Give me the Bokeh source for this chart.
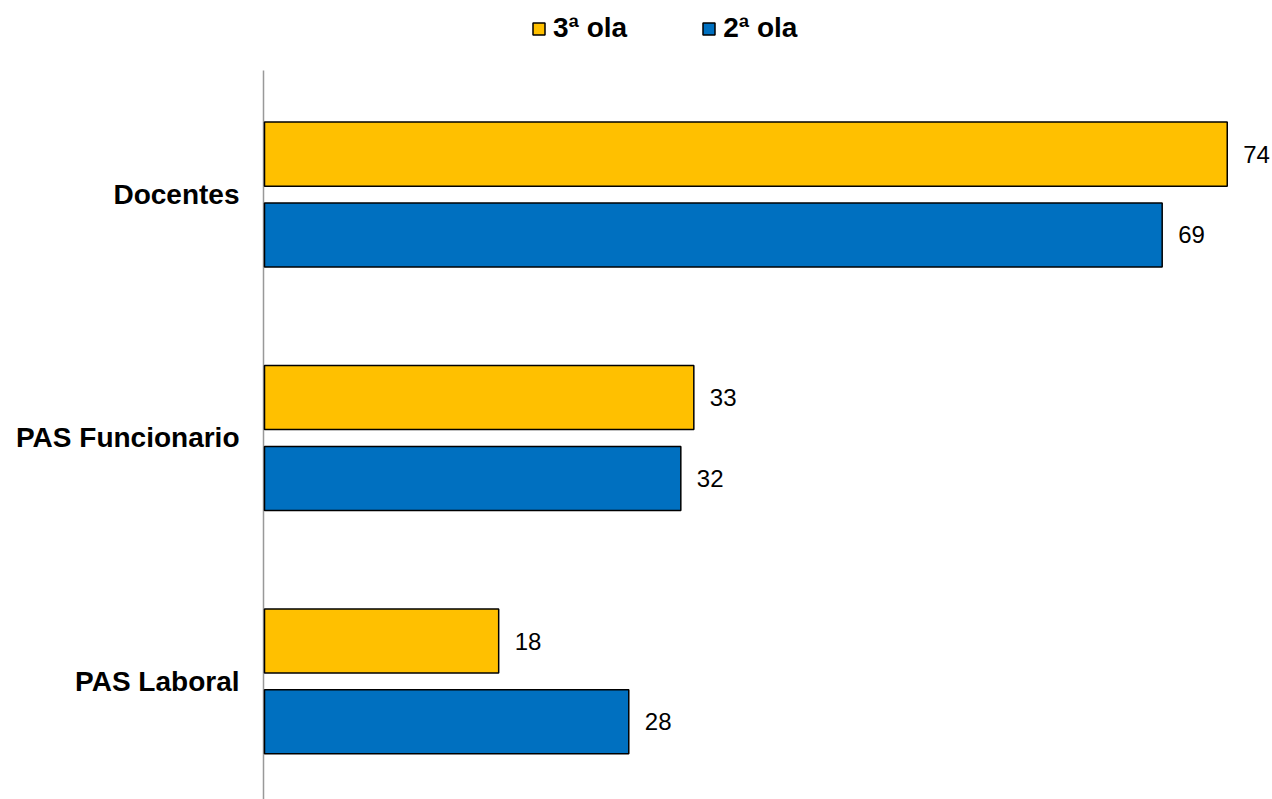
from bokeh.plotting import figure
from bokeh.models import Range1d, Legend, LegendItem, FixedTicker
from bokeh.core.properties import value
from bokeh.embed import file_html
from bokeh.resources import INLINE

categories = ["Docentes", "PAS Funcionario", "PAS Laboral"]
ola3 = [74, 33, 18]
ola2 = [69, 32, 28]
series_names = ["3ª ola", "2ª ola"]
colors = ["#FFC000", "#0070C0"]

FONT = "Liberation Sans"
PX_PER_UNIT = 13.01
FRAME_LEFT = 261
x_start = -3 / PX_PER_UNIT
x_end = x_start + (1272 - FRAME_LEFT) / PX_PER_UNIT
idx = list(range(len(categories)))
off = 0.166
bar_h = 0.263

p = figure(width=1272, height=799, output_backend="svg", toolbar_location=None,
           x_range=Range1d(x_start, x_end), y_range=Range1d(2.485, -0.797),
           min_border_left=FRAME_LEFT, min_border_right=0, min_border_top=0, min_border_bottom=0)
p.outline_line_color = None
p.xgrid.visible = False
p.ygrid.visible = False
p.xaxis.visible = False

# vertical axis line (just left of the bars' base)
axis_x = -1 / PX_PER_UNIT
p.segment(x0=[axis_x], y0=[-0.509], x1=[axis_x], y1=[2.485], line_color="#999999", line_width=1.5)

y3 = [i - off for i in idx]
y2 = [i + off for i in idx]
r3 = p.hbar(y=y3, left=0, right=ola3, height=bar_h, fill_color=colors[0],
            line_color="black", line_width=1.5)
r2 = p.hbar(y=y2, left=0, right=ola2, height=bar_h, fill_color=colors[1],
            line_color="black", line_width=1.5)

for ys, vals in ((y3, ola3), (y2, ola2)):
    p.text(x=vals, y=ys, text=[str(v) for v in vals], x_offset=16,
           text_baseline="middle", text_align="left",
           text_font=value(FONT), text_font_size="24px", text_color="black")

ax = p.yaxis[0]
ax.ticker = FixedTicker(ticks=idx)
ax.major_label_overrides = {i: c for i, c in enumerate(categories)}
ax.axis_line_color = None
ax.major_tick_line_color = None
ax.minor_tick_line_color = None
ax.major_tick_out = 0
ax.major_label_standoff = 22
ax.major_label_text_font = FONT
ax.major_label_text_font_size = "28px"
ax.major_label_text_font_style = "bold"
ax.major_label_text_color = "black"

legend = Legend(items=[LegendItem(label=series_names[0], renderers=[r3]),
                       LegendItem(label=series_names[1], renderers=[r2])],
                orientation="horizontal", location=(270, 755),
                glyph_width=15, glyph_height=15, label_standoff=7, spacing=74,
                padding=0, margin=0, border_line_color=None, background_fill_alpha=0,
                label_text_font=FONT, label_text_font_size="28px",
                label_text_font_style="bold", label_text_color="black")
p.add_layout(legend)

open("out.html", "w").write(file_html(p, INLINE))
